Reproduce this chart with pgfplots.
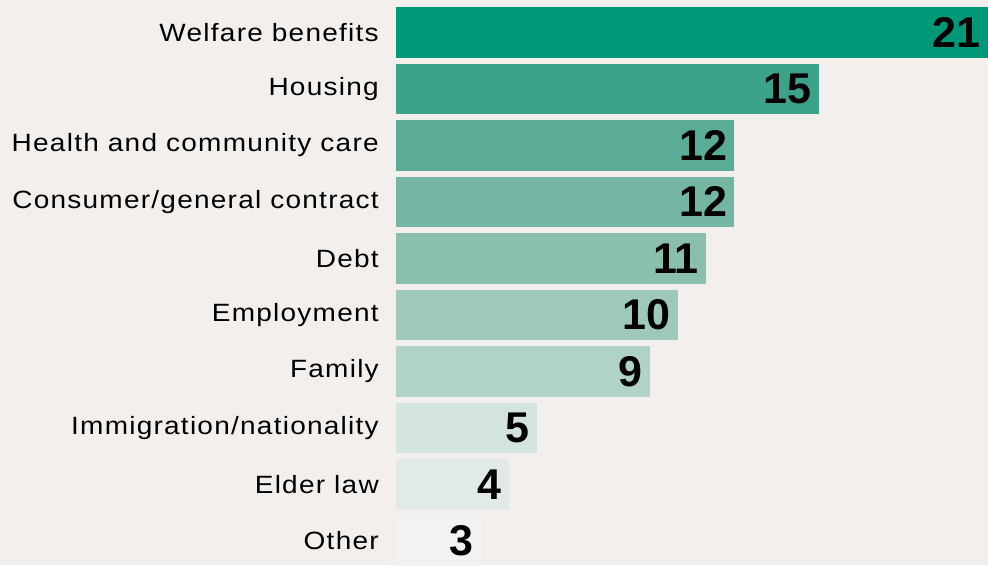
\documentclass[border=0pt]{standalone}
\usepackage{pgfplots}
\pgfplotsset{compat=1.18}
\usepackage{fontspec}
\setmainfont{Liberation Sans}
\newfontfamily\labfont[LetterSpace=5, FakeStretch=1.12]{Liberation Sans}
\newcommand\numfont{\bfseries\fontsize{43}{43}\selectfont}

\definecolor{bg}{HTML}{F3EFEC}
\definecolor{c0}{HTML}{009879}
\definecolor{c1}{HTML}{3DA28A}
\definecolor{c2}{HTML}{5BAC97}
\definecolor{c3}{HTML}{74B5A3}
\definecolor{c4}{HTML}{8ABFAE}
\definecolor{c5}{HTML}{9EC8BA}
\definecolor{c6}{HTML}{B1D2C7}
\definecolor{c7}{HTML}{D3E4DF}
\definecolor{c8}{HTML}{E1EAE7}
\definecolor{c9}{HTML}{F0F3F2}

\begin{document}
\begin{tikzpicture}
\fill[bg] (-396pt,0pt) rectangle (592pt,565pt);
\begin{axis}[
    at={(0pt,0pt)}, anchor=south west,
    scale only axis,
    width=592pt, height=565pt,
    xbar, bar width=0.9, bar shift=0pt,
    xmin=0, xmax=21,
    ymin=-0.575, ymax=9.425,
    y dir=reverse,
    axis line style={draw=none},
    xtick=\empty,
    ytick={0,...,9},
    yticklabels={Welfare benefits, Housing, Health and community care,
        Consumer/general contract, Debt, Employment, Family,
        Immigration/nationality, Elder law, Other},
    major tick length=0pt,
    yticklabel style={font=\labfont\fontsize{25}{27}\selectfont,
        anchor=east, inner sep=0pt, xshift=-17pt},
    /pgf/number format/assume math mode=true,
    nodes near coords,
    every node near coord/.append style={font=\numfont, anchor=east,
        inner sep=0pt, xshift=-7pt, text=black},
    clip=false,
]
\addplot[fill=c0, draw=none] coordinates {(21,0)};
\addplot[fill=c1, draw=none] coordinates {(15,1)};
\addplot[fill=c2, draw=none] coordinates {(12,2)};
\addplot[fill=c3, draw=none] coordinates {(12,3)};
\addplot[fill=c4, draw=none] coordinates {(11,4)};
\addplot[fill=c5, draw=none] coordinates {(10,5)};
\addplot[fill=c6, draw=none] coordinates {(9,6)};
\addplot[fill=c7, draw=none] coordinates {(5,7)};
\addplot[fill=c8, draw=none] coordinates {(4,8)};
\addplot[fill=c9, draw=none] coordinates {(3,9)};
\end{axis}
\end{tikzpicture}
\end{document}
